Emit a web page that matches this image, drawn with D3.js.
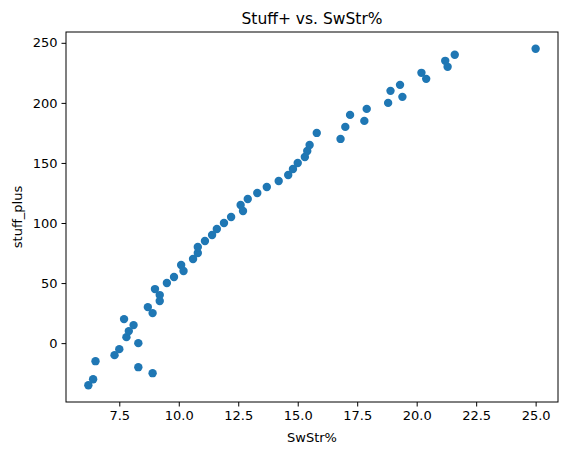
<!DOCTYPE html>
<html>
<head>
<meta charset="utf-8">
<script src="https://cdn.jsdelivr.net/npm/d3@7"></script>
<style>
  body { margin: 0; background: #fff; }
  text { font-family: "DejaVu Sans", sans-serif; }
</style>
</head>
<body>
<svg id="chart" width="571" height="455"></svg>
<script>
const swstr = [6.2, 6.4, 6.5, 7.3, 7.5, 7.7, 7.8, 7.9, 8.1, 8.3, 8.3, 8.7, 8.9, 8.9, 9.0, 9.2, 9.2, 9.5, 9.8, 10.1,
  10.2, 10.6, 10.8, 10.8, 11.1, 11.4, 11.6, 11.9, 12.2, 12.6, 12.7, 12.9, 13.3, 13.7, 14.2, 14.6, 14.8, 15.0, 15.3, 15.4,
  15.5, 15.8, 16.8, 17.0, 17.2, 17.8, 17.9, 18.8, 18.9, 19.3, 19.4, 20.2, 20.4, 21.2, 21.3, 21.6, 25.0];
const stuffPlus = [-35, -30, -15, -10, -5, 20, 5, 10, 15, 0, -20, 30, 25, -25, 45, 40, 35, 50, 55, 65,
  60, 70, 75, 80, 85, 90, 95, 100, 105, 115, 110, 120, 125, 130, 135, 140, 145, 150, 155, 160,
  165, 175, 170, 180, 190, 185, 195, 200, 210, 215, 205, 225, 220, 235, 230, 240, 245];
const xTicks = [7.5, 10.0, 12.5, 15.0, 17.5, 20.0, 22.5, 25.0];
const yTicks = [0, 50, 100, 150, 200, 250];

const mLeft = 66, mRight = 558, mTop = 32, mBottom = 402;
const svg = d3.select('#chart');

const xExt = d3.extent(swstr), yExt = d3.extent(stuffPlus);
const xPad = (xExt[1] - xExt[0]) * 0.05, yPad = (yExt[1] - yExt[0]) * 0.05;
const x = d3.scaleLinear().domain([xExt[0] - xPad, xExt[1] + xPad]).range([mLeft, mRight]);
const y = d3.scaleLinear().domain([yExt[0] - yPad, yExt[1] + yPad]).range([mBottom, mTop]);

svg.append('g')
  .selectAll('circle')
  .data(swstr)
  .enter()
  .append('circle')
  .attr('cx', (d, i) => x(d))
  .attr('cy', (d, i) => y(stuffPlus[i]))
  .attr('r', 4.2)
  .attr('fill', '#1f77b4');

const xAxis = svg.append('g')
  .attr('transform', `translate(0,${mBottom})`)
  .call(d3.axisBottom(x).tickValues(xTicks).tickFormat(d3.format('.1f')).tickSize(4.5).tickPadding(4));
const yAxis = svg.append('g')
  .attr('transform', `translate(${mLeft},0)`)
  .call(d3.axisLeft(y).tickValues(yTicks).tickSize(4.5).tickPadding(4));
[xAxis, yAxis].forEach(a => {
  a.select('.domain').remove();
  a.selectAll('text').attr('font-size', 13).attr('fill', '#000').style('font-family', '"DejaVu Sans", sans-serif');
  a.selectAll('line').attr('stroke', '#000');
});

svg.append('rect')
  .attr('x', mLeft).attr('y', mTop)
  .attr('width', mRight - mLeft).attr('height', mBottom - mTop)
  .attr('fill', 'none').attr('stroke', '#000').attr('stroke-width', 1);

svg.append('text')
  .attr('x', (mLeft + mRight) / 2).attr('y', 24)
  .attr('text-anchor', 'middle').attr('font-size', 15.5)
  .text('Stuff+ vs. SwStr%');
svg.append('text')
  .attr('x', (mLeft + mRight) / 2).attr('y', 442)
  .attr('text-anchor', 'middle').attr('font-size', 13)
  .text('SwStr%');
svg.append('text')
  .attr('transform', `translate(22,${(mTop + mBottom) / 2}) rotate(-90)`)
  .attr('text-anchor', 'middle').attr('font-size', 13)
  .text('stuff_plus');
</script>
</body>
</html>
